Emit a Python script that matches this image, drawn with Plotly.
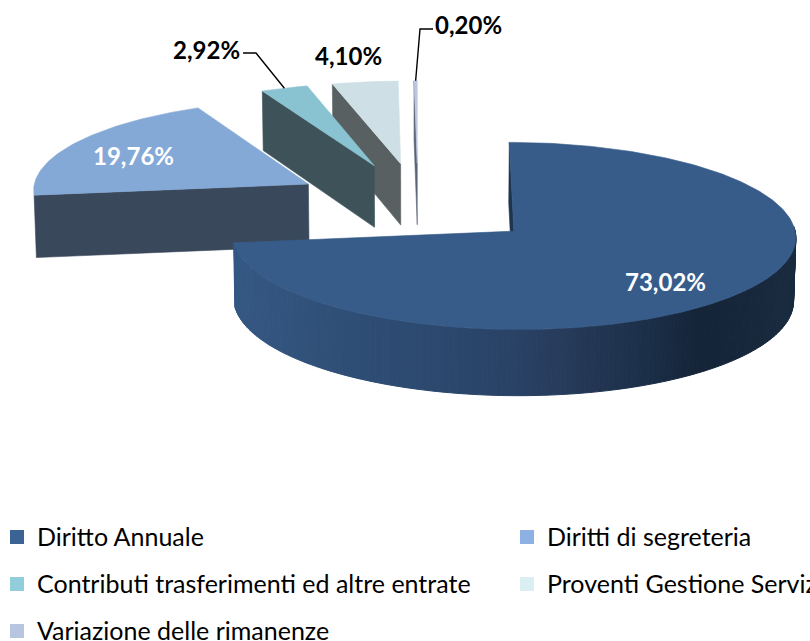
import numpy as np
import plotly.graph_objects as go

categories = ["Diritto Annuale", "Diritti di segreteria",
              "Contributi trasferimenti ed altre entrate",
              "Proventi Gestione Servizi", "Variazione delle rimanenze"]
shares = [73.02, 19.76, 2.92, 4.10, 0.20]
share_labels = ["73,02%", "19,76%", "2,92%", "4,10%", "0,20%"]
top_colors = ["#375C89", "#85A9D6", "#89C3D1", "#CEE0E5", "#BBC8E0"]
face_colors = ["#1E3550", "#3A485B", "#3E5359", "#596062", "#5A6478"]
legend_colors = ["#3B6394", "#8DB1E2", "#92CDDC", "#DBEEF3", "#B8C5E0"]

# projection of the exploded 3-D pie
R, RY, DEPTH = 277.0, 90.5, 63.0
EXPLODE, PERSP, PERSP_Z = 0.455, 0.05, 0.006
XV, Y0 = 418.0, 203.5
FONT = "Lato"


def project(X, Y, z=0.0):
    X, Y = np.asarray(X, float), np.asarray(Y, float)
    s = (1 - PERSP_Z * z) / (1 + PERSP * Y)
    return XV + R * X * s, Y0 - RY * Y * s + DEPTH * z * s


def poly(fig, x, y, color, lw=0.6):
    fig.add_trace(go.Scatter(x=list(x), y=list(y), mode="lines", fill="toself",
                             fillcolor=color, line=dict(color=color, width=lw),
                             hoverinfo="skip", showlegend=False))


def wall_color(x):
    stops_x = [234, 330, 500, 560, 650, 700, 797]
    stops_rgb = np.array([[53, 88, 132], [48, 80, 120], [42, 68, 104], [40, 60, 92],
                          [27, 47, 72], [21, 36, 56], [26, 44, 64]])
    rgb = [int(np.interp(x, stops_x, stops_rgb[:, i])) for i in range(3)]
    return "rgb(%d,%d,%d)" % tuple(rgb)


fig = go.Figure()

edges = np.cumsum([0.0] + shares) / 100 * 2 * np.pi
wedges = []
for i in range(len(shares)):
    t0, t1 = edges[i], edges[i + 1]
    mid = (t0 + t1) / 2
    cx, cy = EXPLODE * np.sin(mid), EXPLODE * np.cos(mid)
    wedges.append((i, t0, t1, cx, cy))

# back wedges first, the large front wedge last
for i, t0, t1, cx, cy in reversed(wedges):
    th = np.linspace(t0, t1, max(6, int((t1 - t0) * 60)))
    ax, ay = cx + np.sin(th), cy + np.cos(th)
    if i == 0:
        # curved outer wall, shaded along its length
        for k in range(len(th) - 1):
            px = [ax[k], ax[k + 1], ax[k + 1], ax[k], ax[k]]
            py = [ay[k], ay[k + 1], ay[k + 1], ay[k], ay[k]]
            pz = [0, 0, 1, 1, 0]
            if np.cos((th[k] + th[k + 1]) / 2) > 0.05:
                continue
            sx, sy = zip(*[project(a, b, c) for a, b, c in zip(px, py, pz)])
            poly(fig, [float(v) for v in sx], [float(v) for v in sy],
                 wall_color(float(np.mean(sx))), 1.0)
    # flat cut face on the starting edge of the wedge
    fx = [cx, ax[0], ax[0], cx, cx]
    fy = [cy, ay[0], ay[0], cy, cy]
    fz = [0, 0, 1, 1, 0]
    sx, sy = zip(*[project(a, b, c) for a, b, c in zip(fx, fy, fz)])
    poly(fig, [float(v) for v in sx], [float(v) for v in sy], face_colors[i])
    # top face
    sx, sy = project(np.r_[cx, ax, cx], np.r_[cy, ay, cy])
    poly(fig, sx, sy, top_colors[i])

# leader lines: elbow next to the label, end on the rim of the thin wedges
leaders = {2: [(243, 53), (256, 53)], 4: [(433, 29), (420, 29)]}
for i, pts in leaders.items():
    _, t0, t1, cx, cy = wedges[i]
    mid = (t0 + t1) / 2
    ex, ey = project(cx + np.sin(mid), cy + np.cos(mid))
    fig.add_trace(go.Scatter(x=[pts[0][0], pts[1][0], float(ex)],
                             y=[pts[0][1], pts[1][1], float(ey)],
                             mode="lines", line=dict(color="#000000", width=1.4),
                             hoverinfo="skip", showlegend=False))

label_pos = [(665, 281, "#FFFFFF"), (133, 155, "#FFFFFF"), (206, 49, "#000000"),
             (348, 55, "#000000"), (468, 24, "#000000")]
annotations = []
for text, (x, y, col) in zip(share_labels, label_pos):
    annotations.append(dict(x=x, y=y, xref="x", yref="y", text="<b>%s</b>" % text,
                            showarrow=False, xanchor="center", yanchor="middle",
                            font=dict(family=FONT, size=24, color=col)))

legend_pos = [(17, 537), (527, 537), (17, 584), (527, 584), (17, 631)]
for name, col, (x, y) in zip(categories, legend_colors, legend_pos):
    fig.add_trace(go.Scatter(x=[x], y=[y], mode="markers", name=name,
                             marker=dict(symbol="square", size=14, color=col),
                             cliponaxis=False, hoverinfo="name", showlegend=False))
    annotations.append(dict(x=x + 18, y=y - 1, xref="x", yref="y", text=name, showarrow=False,
                            xanchor="left", yanchor="middle",
                            font=dict(family=FONT, size=25, color="#000000")))

fig.update_layout(
    width=810, height=641, margin=dict(l=0, r=0, t=0, b=0),
    paper_bgcolor="#FFFFFF", plot_bgcolor="#FFFFFF", showlegend=False,
    annotations=annotations,
    xaxis=dict(range=[0, 810], visible=False, fixedrange=True),
    yaxis=dict(range=[641, 0], visible=False, fixedrange=True),
)
fig.write_html("out.html", config=dict(displayModeBar=False),
               post_script="document.body.style.margin='0';")
